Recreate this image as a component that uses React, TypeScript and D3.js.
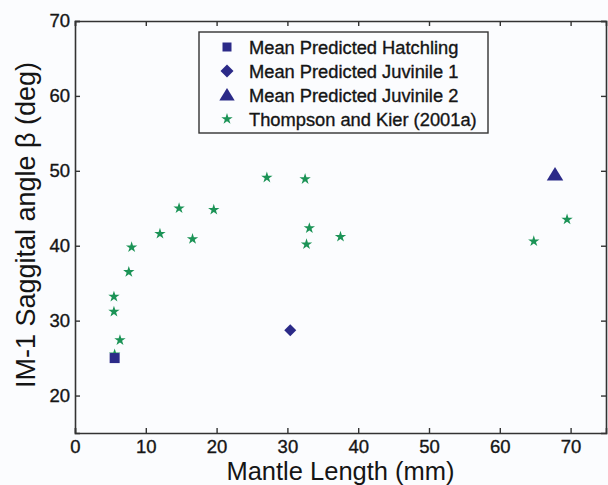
import { useEffect, useRef } from 'react';
import * as d3 from 'd3';

// Thompson and Kier (2001a) measurements
const tkLength = [5.5, 5.5, 5.6, 6.35, 7.6, 8.0, 12.0, 14.7, 16.6, 19.6, 27.1, 32.5, 32.7, 33.1, 37.5, 64.8, 69.5];
const tkAngle = [33.2, 31.2, 25.5, 27.4, 36.5, 39.8, 41.6, 45.0, 40.9, 44.8, 49.1, 48.9, 40.2, 42.35, 41.2, 40.6, 43.5];

// predicted means
const predNames = ['Mean Predicted Hatchling', 'Mean Predicted Juvinile 1', 'Mean Predicted Juvinile 2'];
const predLength = [5.6, 30.4, 67.8];
const predAngle = [25.0, 28.7, 49.5];
const predShapes = ['square', 'diamond', 'triangle'];

const xTicks = [0, 10, 20, 30, 40, 50, 60, 70];
const yTicks = [20, 30, 40, 50, 60, 70];

const NAVY = '#2b2a88';
const GREEN = '#1b9356';
const AXIS = '#333333';
const INK = '#151515';

function markerPath(shape: string, s: number) {
  if (shape === 'square') return `M${-s / 2},${-s / 2}h${s}v${s}h${-s}Z`;
  if (shape === 'diamond') return `M0,${-s / 2}L${s / 2},0L0,${s / 2}L${-s / 2},0Z`;
  if (shape === 'triangle') return `M0,${-s * 0.5}L${s * 0.55},${s * 0.4}L${-s * 0.55},${s * 0.4}Z`;
  return d3.symbol(d3.symbolStar, 40)() as string;
}

export default function App() {
  const svgRef = useRef<SVGSVGElement>(null);

  useEffect(() => {
    if (!svgRef.current) return;
    const svg = d3.select(svgRef.current);
    svg.selectAll('*').remove();

    const width = 608;
    const height = 485;
    const margin = { top: 21, right: 2, bottom: 52, left: 75 };
    const font = 'Arial, "Liberation Sans", Helvetica, sans-serif';

    const x = d3.scaleLinear().domain([0, 75]).range([margin.left, width - margin.right]);
    const y = d3.scaleLinear().domain([15, 70]).range([height - margin.bottom, margin.top]);

    svg.append('rect').attr('width', width).attr('height', height).attr('fill', '#fbfcfe');

    const tickLen = 5;
    // axes with inward ticks on all four sides
    const xb = svg.append('g').attr('transform', `translate(0,${y(15)})`)
      .call(d3.axisBottom(x).tickValues(xTicks).tickSize(-tickLen).tickPadding(7).tickFormat(d3.format('d')));
    const xt = svg.append('g').attr('transform', `translate(0,${y(70)})`)
      .call(d3.axisTop(x).tickValues(xTicks).tickSize(-tickLen).tickFormat(() => ''));
    const yl = svg.append('g').attr('transform', `translate(${x(0)},0)`)
      .call(d3.axisLeft(y).tickValues(yTicks).tickSize(-tickLen).tickPadding(5).tickFormat(d3.format('d')));
    const yr = svg.append('g').attr('transform', `translate(${x(75)},0)`)
      .call(d3.axisRight(y).tickValues(yTicks).tickSize(-tickLen).tickFormat(() => ''));

    [xb, xt, yl, yr].forEach((g) => {
      g.select('.domain').attr('stroke', AXIS).attr('stroke-width', 1.6);
      g.selectAll('.tick line').attr('stroke', AXIS).attr('stroke-width', 1.4);
      g.selectAll('.tick text')
        .attr('fill', INK)
        .attr('stroke', INK)
        .attr('stroke-width', 0.35)
        .attr('font-family', font)
        .attr('font-size', 18.5);
    });
    xb.selectAll('.tick text').attr('dy', '0.71em');

    // data
    svg.append('g')
      .selectAll('path')
      .data(tkLength.map((l, i) => [l, tkAngle[i]]))
      .join('path')
      .attr('transform', (d) => `translate(${x(d[0])},${y(d[1])})`)
      .attr('d', markerPath('star', 0))
      .attr('fill', GREEN);

    svg.append('g')
      .selectAll('path')
      .data(predLength.map((l, i) => ({ l, a: predAngle[i], s: predShapes[i] })))
      .join('path')
      .attr('transform', (d) => `translate(${x(d.l)},${y(d.a)})`)
      .attr('d', (d) => markerPath(d.s, d.s === 'square' ? 10 : d.s === 'diamond' ? 12 : 15))
      .attr('fill', NAVY);

    // axis labels
    svg.append('text')
      .attr('x', (x(0) + x(75)) / 2)
      .attr('y', 480)
      .attr('text-anchor', 'middle')
      .attr('font-family', font)
      .attr('font-size', 25.5)
      .attr('fill', INK)
      .text('Mantle Length (mm)');

    svg.append('text')
      .attr('transform', `translate(35,${(y(15) + y(70)) / 2 - 2}) rotate(-90)`)
      .attr('text-anchor', 'middle')
      .attr('font-family', font)
      .attr('font-size', 27)
      .attr('fill', INK)
      .text('IM-1 Saggital angle \u03b2 (deg)');

    // legend
    const lg = svg.append('g');
    lg.append('rect')
      .attr('x', 199).attr('y', 32).attr('width', 289).attr('height', 101)
      .attr('fill', '#fbfcfe').attr('stroke', AXIS).attr('stroke-width', 1.4);
    const entries = [...predNames.map((n, i) => ({ n, s: predShapes[i] })), { n: 'Thompson and Kier (2001a)', s: 'star' }];
    const rowY = d3.scalePoint<number>().domain(d3.range(entries.length)).range([47, 119]);
    const rows = lg.selectAll('g.row').data(entries).join('g')
      .attr('class', 'row')
      .attr('transform', (_d, i) => `translate(0,${rowY(i)})`);
    rows.append('path')
      .attr('transform', 'translate(227,0)')
      .attr('d', (d) => markerPath(d.s, d.s === 'square' ? 9 : d.s === 'diamond' ? 13 : 14))
      .attr('fill', (d) => (d.s === 'star' ? GREEN : NAVY));
    rows.append('text')
      .attr('x', 249)
      .attr('dy', '0.36em')
      .attr('font-family', font)
      .attr('font-size', 18.3)
      .attr('fill', INK)
      .attr('stroke', INK)
      .attr('stroke-width', 0.35)
      .text((d) => d.n);
  }, []);

  return (
    <div style={{ position: 'absolute', left: 0, top: 0 }}>
      <svg ref={svgRef} width={608} height={485} style={{ display: 'block' }}></svg>
    </div>
  );
}
